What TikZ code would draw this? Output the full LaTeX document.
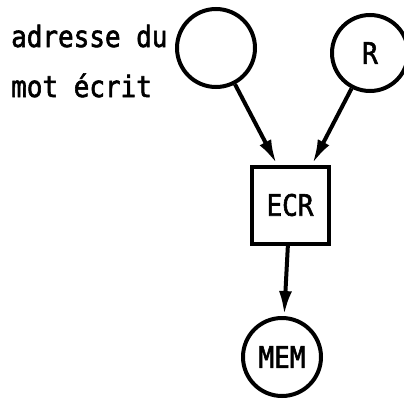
\documentclass[tikz,border=0pt]{standalone}
\usepackage{fontspec}
\newfontfamily\diafont[FakeStretch=0.88,FakeBold=2]{DejaVu Sans Mono}
\usetikzlibrary{arrows.meta}
\tikzset{
  every node/.style={font=\diafont\fontsize{29.5}{33}\selectfont},
  place/.style={circle, draw, line width=4pt, minimum size=78pt, inner sep=0pt},
  boxnode/.style={rectangle, draw, line width=4pt, minimum size=77pt, inner sep=0pt},
  lbl/.style={inner sep=0pt, anchor=base west},
  flow/.style={line width=4pt, -{Latex[length=24pt,width=13pt]}, shorten >=1pt}
}
\begin{document}
\begin{tikzpicture}[x=1pt,y=-1pt]
\useasboundingbox (0,0) rectangle (404,399);
\node[place] (adr) at (216,48) {};
\node[place, minimum size=76pt] (r) at (370,53) {R};
\node[boxnode] (ecr) at (290,205) {ECR};
\node[place] (mem) at (282,357) {MEM};
\node[lbl] (l1) at (11,47) {adresse du};
\node[lbl] (l2) at (11,97) {mot écrit};
\draw[flow] (adr) -- ([xshift=-13pt]ecr.north);
\draw[flow] (r) -- ([xshift=22pt]ecr.north);
\draw[flow] (ecr) -- (mem);
\end{tikzpicture}
\end{document}
